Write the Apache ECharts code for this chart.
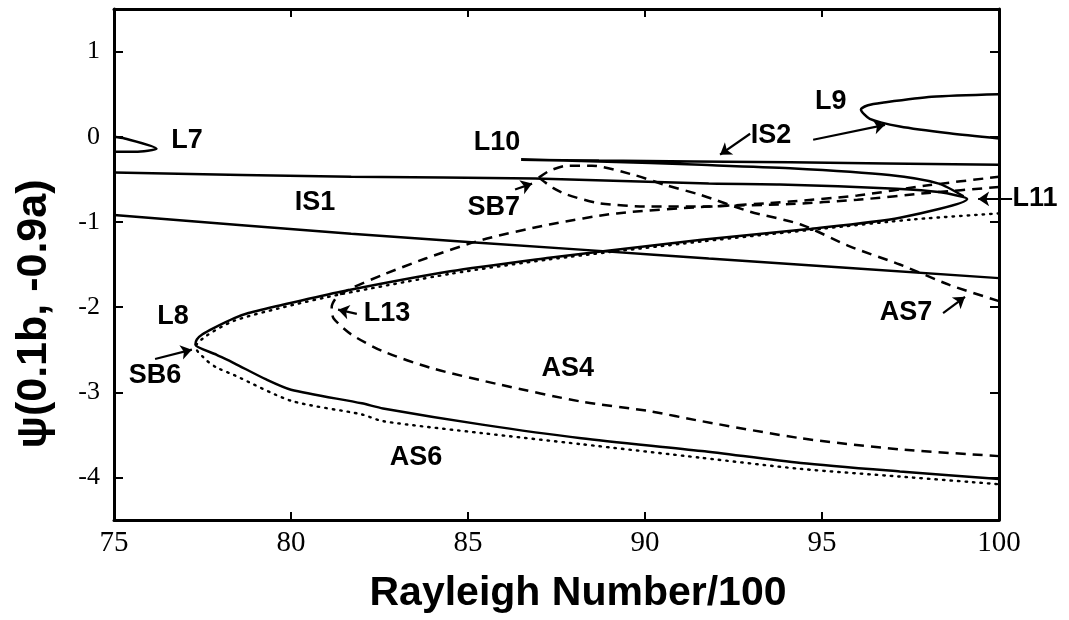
<!DOCTYPE html>
<html>
<head>
<meta charset="utf-8">
<script src="https://cdn.jsdelivr.net/npm/echarts@6/dist/echarts.min.js"></script>
<style>html,body{margin:0;padding:0;background:#fff}#c{width:1069px;height:620px}</style>
</head>
<body>
<div id="c"></div>
<script>
// ---- data (Rayleigh/100, u) ----
const xTicks = [75, 80, 85, 90, 95, 100];
const yTicks = [-4, -3, -2, -1, 0, 1];

const L7 = [[75, 0.0], [75.3, -0.02], [76.2, -0.14], [75.6, -0.175], [75, -0.175]];
const mainSolid = [
  [75, -0.42], [81.7, -0.47], [86.9, -0.49], [91.8, -0.55], [93.8, -0.56], [97.1, -0.61], [98.3, -0.65], [99.1, -0.73],
  [97.2, -0.95], [94.7, -1.08], [91.6, -1.21], [88.7, -1.35], [87.3, -1.42], [84.5, -1.58], [81.4, -1.82], [79.8, -1.97],
  [78.8, -2.07], [78.4, -2.13], [77.8, -2.25], [77.5, -2.32], [77.34, -2.38], [77.3, -2.44],
  [77.9, -2.56], [78.4, -2.66], [79.3, -2.85], [80.0, -2.97], [82.0, -3.13], [82.6, -3.19], [85.4, -3.38],
  [88.2, -3.54], [91.6, -3.69], [94.4, -3.83], [97.2, -3.93], [100, -4.02]
];
const is1Lower = [[75, -0.92], [81.7, -1.14], [88.7, -1.34], [91.8, -1.43], [100, -1.66]];
const L10 = [[100, -0.33], [94.1, -0.30], [88.7, -0.28], [86.5, -0.27], [88.7, -0.29], [91.6, -0.33], [94.1, -0.37], [96.9, -0.45], [98.3, -0.55], [99.0, -0.70]];
const L9 = [[100, 0.50], [98.1, 0.47], [96.7, 0.40], [96.3, 0.37], [96.1, 0.32], [96.35, 0.21], [97.2, 0.12], [98.6, 0.04], [100, -0.02]];
const dotted = [
  [100, -0.90], [97.6, -0.97], [95.0, -1.08], [91.6, -1.23], [87.3, -1.44], [84.5, -1.61], [81.4, -1.85], [79.8, -2.0],
  [78.4, -2.16], [77.6, -2.34], [77.3, -2.47], [77.6, -2.62], [77.9, -2.71], [78.4, -2.80], [80.0, -3.10], [82.0, -3.26],
  [82.6, -3.34], [85.4, -3.48], [88.2, -3.61], [91.6, -3.77], [94.4, -3.90], [97.2, -3.99], [100, -4.08]
];
const AS7 = [[87.0, -0.48], [87.3, -0.40], [87.8, -0.34], [88.5, -0.34], [89.7, -0.45], [90.6, -0.57], [91.55, -0.68], [92.97, -0.88], [94.4, -1.03], [95.8, -1.29], [97.2, -1.50], [98.6, -1.74], [100, -1.93]];
const SB7lower = [[87.0, -0.48], [87.4, -0.60], [87.8, -0.68], [88.7, -0.78], [90.1, -0.82], [91.6, -0.82], [94.1, -0.76], [96.0, -0.69], [98.0, -0.57], [100, -0.47]];
const L13 = [
  [100, -0.59], [98, -0.66], [96, -0.74], [94.1, -0.79], [91.8, -0.82], [89.2, -0.90], [87.3, -1.03], [85.4, -1.21],
  [83.8, -1.43], [82.6, -1.62], [81.7, -1.78], [81.3, -1.88], [81.15, -2.0], [81.2, -2.13], [81.7, -2.32], [82.6, -2.52],
  [84.0, -2.72], [85.9, -2.91], [88.2, -3.11], [90.1, -3.22], [91.6, -3.34], [94.4, -3.54], [97.2, -3.67], [100, -3.75]
];

// annotation labels (data coords)
const labelNames = ['L7', 'IS1', 'L10', 'SB7', 'L13', 'AS4', 'AS6', 'L8', 'SB6', 'L9', 'IS2', 'L11', 'AS7'];
const labelX = [77.06, 80.68, 85.82, 85.73, 82.71, 87.82, 83.53, 76.67, 76.16, 95.25, 93.56, 101.02, 97.37];
const labelY = [-0.05, -0.77, -0.07, -0.83, -2.08, -2.72, -3.77, -2.11, -2.80, 0.41, 0.01, -0.73, -2.06];
// arrows: [fromX, fromY, toX, toY]
const arrows = [
  [76.16, -2.61, 77.20, -2.50],
  [86.33, -0.62, 86.81, -0.55],
  [81.86, -2.08, 81.33, -2.03],
  [92.97, 0.035, 92.12, -0.21],
  [94.75, -0.035, 96.78, 0.14],
  [100.37, -0.73, 99.41, -0.73],
  [98.42, -2.07, 99.04, -1.88]
];

const chart = echarts.init(document.getElementById('c'), null, {renderer: 'canvas'});
const axisLineStyle = {color: '#000', width: 3};
const tickStyle = {color: '#000', width: 2};
function lineSeries(data, type, dash) {
  return {
    type: 'line', data: data, symbol: 'none', smooth: 0.25, silent: true,
    lineStyle: {color: '#000', width: type === 'dotted' ? 2.4 : 2.5, opacity: 1, type: dash || 'solid', cap: type === 'dotted' ? 'round' : 'butt'}
  };
}
const option = {
  animation: false,
  backgroundColor: '#fff',
  grid: {left: 114, right: 70, top: 9, bottom: 100},
  xAxis: [
    {type: 'value', min: 75, max: 100, interval: 5, position: 'bottom',
     axisLine: {show: true, onZero: false, lineStyle: axisLineStyle},
     axisTick: {show: true, inside: true, length: 8, lineStyle: tickStyle},
     axisLabel: {color: '#000', fontFamily: 'Liberation Serif', fontSize: 29, margin: 9},
     splitLine: {show: false}},
    {type: 'value', min: 75, max: 100, interval: 5, position: 'top',
     axisLine: {show: true, onZero: false, lineStyle: axisLineStyle},
     axisTick: {show: true, inside: true, length: 8, lineStyle: tickStyle},
     axisLabel: {show: false}, splitLine: {show: false}}
  ],
  yAxis: [
    {type: 'value', min: -4.5, max: 1.5, position: 'left',
     axisLine: {show: true, onZero: false, lineStyle: axisLineStyle},
     axisTick: {show: true, inside: true, length: 9, lineStyle: tickStyle, customValues: yTicks},
     axisLabel: {color: '#000', fontFamily: 'Liberation Serif', fontSize: 26, margin: 14, customValues: yTicks},
     splitLine: {show: false}},
    {type: 'value', min: -4.5, max: 1.5, position: 'right',
     axisLine: {show: true, onZero: false, lineStyle: axisLineStyle},
     axisTick: {show: true, inside: true, length: 9, lineStyle: tickStyle, customValues: yTicks},
     axisLabel: {show: false}, splitLine: {show: false}}
  ],
  graphic: [
    {type: 'text', x: 578, y: 594, style: {text: 'Rayleigh Number/100', fontFamily: 'Liberation Sans', fontWeight: 'bold', fontSize: 41, fill: '#000', align: 'center', verticalAlign: 'middle'}},
    {type: 'text', x: 34, y: 314, rotation: Math.PI / 2, style: {text: 'ψ(0.1b, -0.9a)', fontFamily: 'Liberation Sans', fontWeight: 'bold', fontSize: 43, fill: '#000', align: 'center', verticalAlign: 'middle'}}
  ],
  series: [
    lineSeries(L7, 'solid'),
    lineSeries(mainSolid, 'solid'),
    lineSeries(is1Lower, 'solid'),
    lineSeries(L10, 'solid'),
    lineSeries(L9, 'solid'),
    lineSeries(dotted, 'dotted', [1.5, 6]),
    lineSeries(AS7, 'dashed', [10, 7]),
    lineSeries(SB7lower, 'dashed', [10, 7]),
    lineSeries(L13, 'dashed', [10, 7]),
    {
      type: 'lines', coordinateSystem: 'cartesian2d', clip: false, silent: true,
      symbol: ['none', 'arrow'], symbolSize: [0, 11],
      lineStyle: {color: '#000', width: 2.2, opacity: 1, curveness: 0},
      data: arrows.map(a => ({coords: [[a[0], a[1]], [a[2], a[3]]]}))
    },
    {
      type: 'scatter', clip: false, silent: true, symbolSize: 0,
      itemStyle: {color: '#000', opacity: 1},
      label: {show: true, position: 'inside', formatter: '{b}', color: '#000', opacity: 1, textBorderWidth: 0, textBorderColor: 'transparent',
              fontFamily: 'Liberation Sans', fontWeight: 'bold', fontSize: 27},
      data: labelNames.map((n, i) => ({name: n, value: [labelX[i], labelY[i]]}))
    }
  ]
};
chart.setOption(option);
</script>
</body>
</html>
